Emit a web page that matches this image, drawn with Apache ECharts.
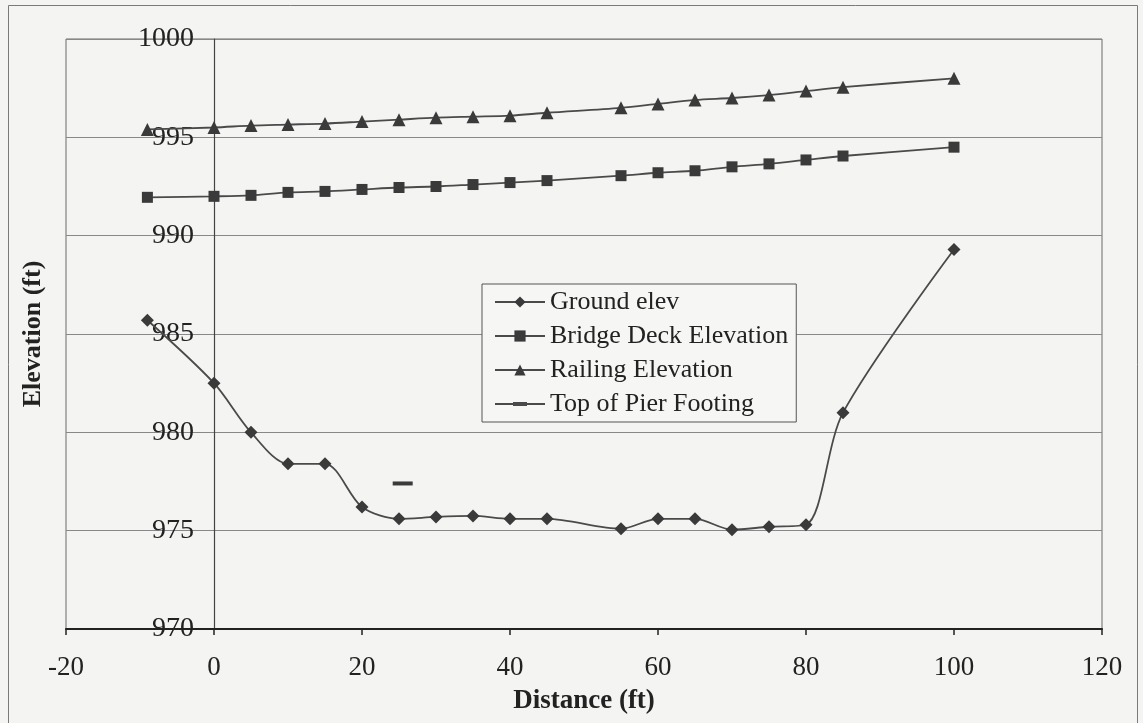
<!DOCTYPE html>
<html>
<head>
<meta charset="utf-8">
<script src="https://cdn.jsdelivr.net/npm/echarts@6/dist/echarts.min.js"></script>
<style>
  html, body { margin: 0; padding: 0; background: #f4f4f2; }
  #chart { width: 1143px; height: 723px; }
</style>
</head>
<body>
<div id="chart"></div>
<script>
// Station distances along the cross-section (ft)
const distance = [-9, 0, 5, 10, 15, 20, 25, 30, 35, 40, 45, 55, 60, 65, 70, 75, 80, 85, 100];
// Elevations at each station (ft)
const groundElev = [985.7, 982.5, 980.0, 978.4, 978.4, 976.2, 975.6, 975.7, 975.75, 975.6, 975.6, 975.1, 975.6, 975.6, 975.05, 975.2, 975.3, 981.0, 989.3];
const deckElev   = [991.95, 992.0, 992.05, 992.2, 992.25, 992.35, 992.45, 992.5, 992.6, 992.7, 992.8, 993.05, 993.2, 993.3, 993.5, 993.65, 993.85, 994.05, 994.5];
const railElev   = [995.4, 995.5, 995.6, 995.65, 995.7, 995.8, 995.9, 996.0, 996.05, 996.1, 996.25, 996.5, 996.7, 996.9, 997.0, 997.15, 997.35, 997.55, 998.0];
// Pier footing top
const pierDistance = [25.5];
const pierElev = [977.4];

const seriesNames = ['Ground elev', 'Bridge Deck Elevation', 'Railing Elevation', 'Top of Pier Footing'];

const pairs = (xs, ys) => xs.map((x, i) => [x, ys[i]]);

const FONT = '"Liberation Serif", "Times New Roman", serif';
const LINE = '#4a4a4a';
const MARK = '#3a3a3a';

// Plot box in pixels
const GRID = { left: 66, right: 41, top: 39, bottom: 94 };
const X_MIN = -20, X_MAX = 120;
// Horizontal pixel offset of the vertical axis, which crosses at distance 0
const plotWidth = 1143 - GRID.left - GRID.right;
const yAxisShift = plotWidth * (0 - X_MIN) / (X_MAX - X_MIN);

function lineSeries(name, data, symbol, size) {
  return {
    name: name,
    type: 'line',
    data: data,
    smooth: 0.3,
    symbol: symbol,
    symbolSize: size,
    showAllSymbol: true,
    lineStyle: { color: LINE, width: 1.8 },
    itemStyle: { color: MARK },
    emphasis: { disabled: true },
    z: 3
  };
}

// Legend icon for the footing entry: a line with a short thick dash in the middle
const pierIcon = 'path://M0,0L0.01,0L0,0.01Z M50,14L49.99,14L50,13.99Z M0,6.1H50V7.9H0Z M18,5H32V9H18Z';

const chart = echarts.init(document.getElementById('chart'), null, { renderer: 'canvas' });

chart.setOption({
  backgroundColor: '#f4f4f2',
  animation: false,
  textStyle: { fontFamily: FONT },
  graphic: [{
    type: 'rect',
    shape: { x: 8.5, y: 5.5, width: 1129, height: 740 },
    style: { fill: 'none', stroke: '#7a7a7a', lineWidth: 1 },
    silent: true,
    z: -1
  }],
  grid: {
    left: GRID.left, right: GRID.right, top: GRID.top, bottom: GRID.bottom,
    containLabel: false,
    outerBoundsMode: 'none',
    show: true,
    borderColor: '#6a6a6a',
    borderWidth: 1,
    backgroundColor: 'transparent'
  },
  legend: {
    orient: 'vertical',
    left: 482,
    top: 284,
    data: [
      { name: seriesNames[0] },
      { name: seriesNames[1] },
      { name: seriesNames[2] },
      { name: seriesNames[3], icon: pierIcon, itemStyle: { color: LINE } }
    ],
    itemWidth: 50,
    itemHeight: 14,
    itemGap: 4,
    padding: [3, 8, 3, 12],
    backgroundColor: '#f6f6f4',
    borderColor: '#555',
    borderWidth: 1,
    borderRadius: 0,
    textStyle: { fontFamily: FONT, fontSize: 26, color: '#222', lineHeight: 30 },
    selectedMode: false,
    z: 10
  },
  xAxis: {
    type: 'value',
    min: X_MIN, max: X_MAX, interval: 20,
    name: 'Distance (ft)',
    nameLocation: 'middle',
    nameGap: 59,
    nameTextStyle: { fontFamily: FONT, fontSize: 27, fontWeight: 'bold', color: '#222' },
    axisLine: { onZero: false, lineStyle: { color: '#222', width: 2 } },
    axisTick: { show: true, length: 6, lineStyle: { color: '#222', width: 1.5 } },
    axisLabel: { fontFamily: FONT, fontSize: 27, color: '#222', margin: 25 },
    splitLine: { show: false }
  },
  yAxis: {
    type: 'value',
    min: 970, max: 1000, interval: 5,
    offset: -yAxisShift,
    name: 'Elevation (ft)',
    nameLocation: 'middle',
    nameGap: 168,
    nameRotate: 90,
    nameTextStyle: { fontFamily: FONT, fontSize: 26, fontWeight: 'bold', color: '#222' },
    axisLine: { show: true, onZero: false, lineStyle: { color: '#444', width: 1.2 } },
    axisTick: { show: false },
    axisLabel: { fontFamily: FONT, fontSize: 28, color: '#222', margin: 20, formatter: (v) => String(v) },
    splitLine: { show: true, lineStyle: { color: '#888', width: 1 } }
  },
  series: [
    lineSeries(seriesNames[0], pairs(distance, groundElev), 'diamond', 13),
    lineSeries(seriesNames[1], pairs(distance, deckElev), 'rect', 11),
    lineSeries(seriesNames[2], pairs(distance, railElev), 'triangle', 13),
    Object.assign(lineSeries(seriesNames[3], pairs(pierDistance, pierElev), 'rect', [20, 4]), { smooth: false })
  ]
});
</script>
</body>
</html>
